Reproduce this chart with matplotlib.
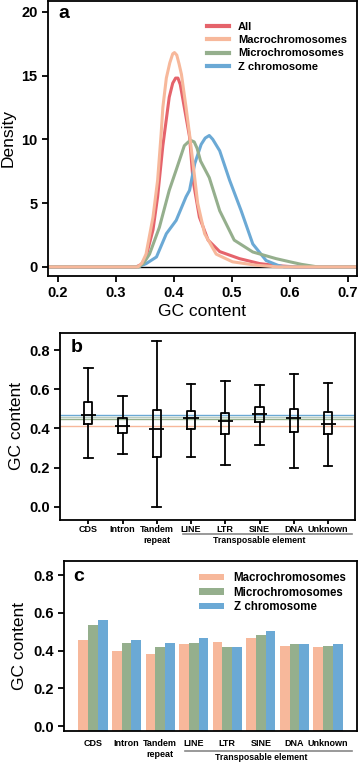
import numpy as np
import matplotlib
matplotlib.use("Agg")
import matplotlib.pyplot as plt
from matplotlib.lines import Line2D

plt.rcParams['font.family'] = ['Liberation Sans', 'DejaVu Sans']

# colours
c_all = '#E5636B'
c_macro = '#F7B89B'
c_micro = '#95AF8D'
c_z = '#6BA9D5'

# ---- panel a: density curves
all_x = [0.18, 0.335, 0.344, 0.352, 0.364, 0.372, 0.381, 0.392, 0.398, 0.403, 0.407, 0.411, 0.418, 0.427, 0.433, 0.444, 0.459, 0.479, 0.513, 0.548, 0.577, 0.61, 0.72]
all_y = [0, 0, 0.2, 0.8, 2.9, 5.5, 9.5, 13.3, 14.4, 14.8, 14.8, 14.3, 12.5, 10.2, 6.8, 3.9, 2.1, 1.2, 0.65, 0.26, 0.1, 0, 0]

macro_x = [0.18, 0.338, 0.345, 0.352, 0.364, 0.372, 0.378, 0.381, 0.387, 0.393, 0.398, 0.401, 0.405, 0.409, 0.413, 0.421, 0.427, 0.433, 0.441, 0.453, 0.473, 0.501, 0.542, 0.58, 0.72]
macro_y = [0, 0, 0.3, 1.0, 3.9, 6.8, 10.4, 12.5, 14.8, 16.0, 16.7, 16.8, 16.6, 15.9, 15.1, 12.5, 10.4, 8.1, 5.0, 2.6, 1.0, 0.4, 0.13, 0, 0]

micro_x = [0.18, 0.34, 0.348, 0.358, 0.375, 0.392, 0.404, 0.418, 0.425, 0.430, 0.435, 0.440, 0.446, 0.461, 0.479, 0.504, 0.536, 0.576, 0.60, 0.62, 0.648, 0.72]
micro_y = [0, 0, 0.3, 1.0, 3.1, 6.0, 7.6, 9.5, 9.8, 9.9, 9.8, 9.3, 8.3, 7.0, 4.4, 2.1, 1.17, 0.65, 0.4, 0.2, 0, 0]

z_x = [0.18, 0.338, 0.352, 0.370, 0.387, 0.404, 0.421, 0.427, 0.436, 0.447, 0.454, 0.461, 0.467, 0.479, 0.496, 0.516, 0.536, 0.559, 0.579, 0.59, 0.72]
z_y = [0, 0, 0.25, 0.78, 2.6, 3.65, 5.5, 6.0, 8.1, 9.6, 10.1, 10.3, 10.0, 9.1, 6.8, 4.4, 1.8, 0.5, 0.13, 0, 0]

# ---- panel b: box summaries
categories = ['CDS', 'Intron', 'Tandem\nrepeat', 'LINE', 'LTR', 'SINE', 'DNA', 'Unknown']
wlo = [0.25, 0.269, 0.0, 0.255, 0.213, 0.315, 0.20, 0.208]
q1 = [0.42, 0.374, 0.255, 0.395, 0.369, 0.431, 0.38, 0.371]
med = [0.47, 0.412, 0.395, 0.451, 0.437, 0.471, 0.451, 0.42]
q3 = [0.536, 0.451, 0.494, 0.489, 0.48, 0.507, 0.499, 0.485]
whi = [0.71, 0.565, 0.848, 0.626, 0.643, 0.621, 0.676, 0.633]
ref_levels = [0.467, 0.457, 0.446, 0.412]
ref_colors = [c_z, '#B9CCC0', c_micro, c_macro]

# ---- panel c: mean GC content by chromosome class
macro_gc = [0.458, 0.396, 0.384, 0.434, 0.446, 0.467, 0.423, 0.419]
micro_gc = [0.535, 0.440, 0.419, 0.440, 0.419, 0.485, 0.434, 0.425]
z_gc = [0.561, 0.458, 0.440, 0.467, 0.419, 0.504, 0.437, 0.437]

fig = plt.figure(figsize=(3.58, 7.62), dpi=100)
tick_kw = dict(labelsize=10.5, width=1.3, length=4)

# panel a
ax = fig.add_axes([0.134, 0.638, 0.863, 0.361])
ax.axhline(0, color='black', lw=1.0, zorder=1)
ax.plot(all_x, all_y, color=c_all, lw=2.2)
ax.plot(z_x, z_y, color=c_z, lw=2.2)
ax.plot(micro_x, micro_y, color=c_micro, lw=2.2)
ax.plot(macro_x, macro_y, color=c_macro, lw=2.2)
ax.set_xlim(0.183, 0.7155)
ax.set_ylim(-0.7, 20.86)
ax.set_xticks([0.2, 0.3, 0.4, 0.5, 0.6, 0.7])
ax.set_yticks([0, 5, 10, 15, 20])
ax.tick_params(**tick_kw)
for t in ax.get_xticklabels() + ax.get_yticklabels():
    t.set_fontweight('bold')
ax.set_xlabel('GC content', fontsize=12.5, labelpad=3)
ax.set_ylabel('Density', fontsize=12.5, labelpad=4)
for s in ax.spines.values():
    s.set_linewidth(1.3)
ax.text(0.035, 0.985, 'a', transform=ax.transAxes, fontsize=14, fontweight='bold', va='top')
handles = [Line2D([], [], color=c, lw=3) for c in [c_all, c_macro, c_micro, c_z]]
ax.legend(handles, ['All', 'Macrochromosomes', 'Microchromosomes', 'Z chromosome'],
          loc='upper right', bbox_to_anchor=(1.0, 0.96), frameon=False,
          prop={'size': 8, 'weight': 'bold'}, handlelength=2.0, handletextpad=0.8,
          labelspacing=0.3)

# panel b
bx = fig.add_axes([0.168, 0.318, 0.824, 0.245])
pos = np.arange(len(categories))
for lvl, c in zip(ref_levels, ref_colors):
    bx.axhline(lvl, color=c, lw=1.0, zorder=1)
stats = [dict(whislo=a, q1=b, med=m, q3=d, whishi=e) for a, b, m, d, e in zip(wlo, q1, med, q3, whi)]
bx.bxp(stats, positions=pos, widths=0.24, showfliers=False, capwidths=0.25,
       boxprops=dict(lw=1.3), whiskerprops=dict(lw=1.3), capprops=dict(lw=1.3),
       medianprops=dict(visible=False), manage_ticks=False)
bx.hlines(med, pos - 0.22, pos + 0.22, color='black', lw=1.3, zorder=3)
bx.set_xlim(-0.82, 7.79)
bx.set_ylim(-0.066, 0.887)
bx.set_yticks([0.0, 0.2, 0.4, 0.6, 0.8])
bx.set_yticklabels(['0.0', '0.2', '0.4', '0.6', '0.8'])
bx.set_xticks(pos)
bx.set_xticklabels(categories, fontsize=6.5, fontweight='bold', linespacing=1.2)
bx.tick_params(axis='y', **tick_kw)
bx.tick_params(axis='x', width=1.3, length=3, pad=1)
for t in bx.get_yticklabels():
    t.set_fontweight('bold')
bx.set_ylabel('GC content', fontsize=12.5, labelpad=4)
for s in bx.spines.values():
    s.set_linewidth(1.3)
bx.text(0.035, 0.97, 'b', transform=bx.transAxes, fontsize=14, fontweight='bold', va='top')
bx.plot([2.77, 7.7], [-0.077, -0.077], transform=bx.get_xaxis_transform(), color='#888888', lw=1.2, clip_on=False)
bx.text(5.0, -0.088, 'Transposable element', transform=bx.get_xaxis_transform(),
        ha='center', va='top', fontsize=6.3, fontweight='bold')

# panel c
cx = fig.add_axes([0.179, 0.0407, 0.818, 0.223])
w = 0.29
base = -0.026
cx.bar(pos - w, np.array(macro_gc) - base, bottom=base, width=w, color=c_macro, label='Macrochromosomes')
cx.bar(pos, np.array(micro_gc) - base, bottom=base, width=w, color=c_micro, label='Microchromosomes')
cx.bar(pos + w, np.array(z_gc) - base, bottom=base, width=w, color=c_z, label='Z chromosome')
cx.set_xlim(-0.86, 7.86)
cx.set_ylim(base, 0.874)
cx.set_yticks([0.0, 0.2, 0.4, 0.6, 0.8])
cx.set_yticklabels(['0.0', '0.2', '0.4', '0.6', '0.8'])
cx.set_xticks(pos)
cx.set_xticklabels(categories, fontsize=6.5, fontweight='bold', linespacing=1.2)
cx.tick_params(axis='y', **tick_kw)
cx.tick_params(axis='x', length=0, pad=6)
for t in cx.get_yticklabels():
    t.set_fontweight('bold')
cx.set_ylabel('GC content', fontsize=12.5, labelpad=4)
for s in cx.spines.values():
    s.set_linewidth(1.3)
cx.text(0.03, 0.96, 'c', transform=cx.transAxes, fontsize=14, fontweight='bold', va='top')
cx.plot([2.75, 7.7], [-0.12, -0.12], transform=cx.get_xaxis_transform(), color='#888888', lw=1.2, clip_on=False)
cx.text(5.0, -0.132, 'Transposable element', transform=cx.get_xaxis_transform(),
        ha='center', va='top', fontsize=6.3, fontweight='bold')
cx.legend(loc='upper right', bbox_to_anchor=(1.0, 0.995), frameon=False,
          prop={'size': 8.3, 'weight': 'bold'}, handlelength=2.2, handleheight=0.5,
          handletextpad=0.8, labelspacing=0.2)

fig.savefig('out.png', dpi=100)
